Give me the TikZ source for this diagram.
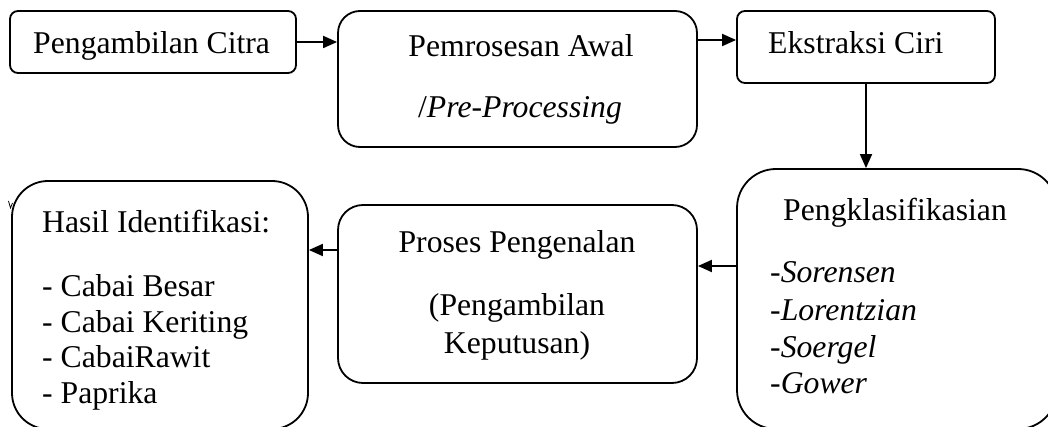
\documentclass[tikz,border=0pt]{standalone}
\usepackage{fontspec}
\setmainfont{Liberation Serif}
\usetikzlibrary{arrows.meta}
\tikzset{
  box/.style={draw, line width=1.8pt, rectangle, inner sep=0pt},
  arr/.style={line width=1.8pt, -{Triangle[length=14pt,width=12pt]}},
  lbl/.style={inner sep=0pt, font=\fontsize{31.7pt}{36.5pt}\selectfont},
}
\begin{document}
\begin{tikzpicture}[x=1pt,y=-1pt]
\useasboundingbox (0,0) rectangle (1048,427);
\clip (0,0) rectangle (1048,427);

% process boxes
\node[box, minimum width=286pt, minimum height=62pt, rounded corners=8pt] (b1) at (153,42) {};
\node[box, minimum width=359pt, minimum height=136pt, rounded corners=22pt] (b2) at (517.5,79) {};
\node[box, minimum width=258pt, minimum height=72pt, rounded corners=8pt] (b3) at (866,47) {};
\node[box, minimum width=320pt, minimum height=260pt, rounded corners=39pt] (b6) at (897,299) {};
\node[box, minimum width=359pt, minimum height=178pt, rounded corners=25pt] (b5) at (517.5,294) {};
\node[box, minimum width=296pt, minimum height=248pt, rounded corners=36pt] (b4) at (160,305) {};

% box texts
\node[lbl, anchor=base west] (t1) at (33,54) {Pengambilan Citra};
\node[lbl, anchor=base] (t2a) at (521,57) {Pemrosesan Awal};
\node[lbl, anchor=base] (t2b) at (520,118) {/\textit{Pre-Processing}};
\node[lbl, anchor=base west] (t3) at (768,54) {Ekstraksi Ciri};
\node[lbl, anchor=base west] (t6) at (783,221) {Pengklasifikasian};
\node[lbl, anchor=base west] (t6a) at (770,283) {-\textit{Sorensen}};
\node[lbl, anchor=base west] (t6b) at (770,320) {-\textit{Lorentzian}};
\node[lbl, anchor=base west] (t6c) at (770,357) {-\textit{Soergel}};
\node[lbl, anchor=base west] (t6d) at (770,393) {-\textit{Gower}};
\node[lbl, anchor=base] (t5a) at (517,253) {Proses Pengenalan};
\node[lbl, anchor=base] (t5b) at (517,316) {(Pengambilan};
\node[lbl, anchor=base] (t5c) at (517,353) {Keputusan)};
\node[lbl, anchor=base west] (t4) at (42,233) {Hasil Identifikasi:};
\node[lbl, anchor=base west] (t4a) at (42,296) {- Cabai Besar};
\node[lbl, anchor=base west] (t4b) at (42,332) {- Cabai Keriting};
\node[lbl, anchor=base west] (t4c) at (42,367) {- CabaiRawit};
\node[lbl, anchor=base west] (t4d) at (42,403) {- Paprika};

% row heights of the connectors
\coordinate (r1) at (0,42);
\coordinate (r2) at (0,40);
\coordinate (r4) at (0,266);
\coordinate (r5) at (0,250);

% connectors
\draw[arr] (b1.east |- r1) -- (b2.west |- r1);
\draw[arr] (b2.east |- r2) -- (b3.west |- r2);
\draw[arr] (b3.south) -- (b3.south |- b6.north);
\draw[arr] (b6.west |- r4) -- (b5.east |- r4);
\draw[arr] (b5.west |- r5) -- (b4.east |- r5);

% small stray stroke on the left edge
\draw[line width=0.8pt] (8.5,201) -- (10.5,208) -- (12.5,203);
\end{tikzpicture}
\end{document}
